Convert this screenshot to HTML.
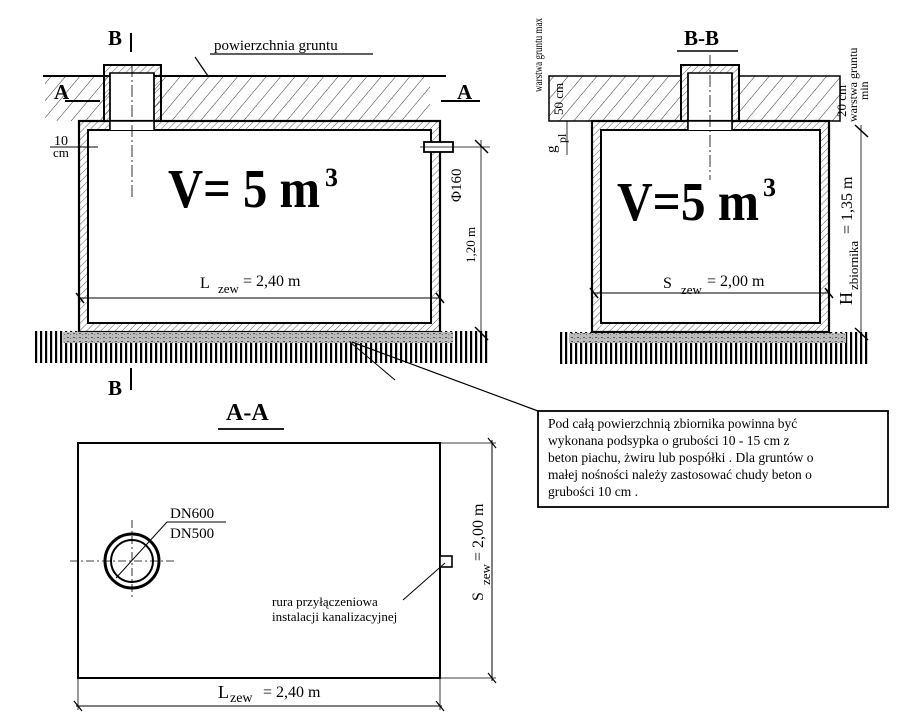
<!DOCTYPE html>
<html><head><meta charset="utf-8"><style>
html,body{margin:0;padding:0;background:#fff}
svg{display:block}
text{font-family:"Liberation Serif",serif;fill:#000}
</style></head><body>
<svg width="907" height="725" viewBox="0 0 907 725" xmlns="http://www.w3.org/2000/svg">
<defs>
<pattern id="hw" width="5" height="5" patternUnits="userSpaceOnUse" patternTransform="rotate(45)">
<line x1="0" y1="0" x2="0" y2="5" stroke="#333" stroke-width="0.8"/></pattern>
<pattern id="hs" width="11" height="11" patternUnits="userSpaceOnUse" patternTransform="rotate(40)">
<line x1="0" y1="0" x2="0" y2="11" stroke="#333" stroke-width="1"/></pattern>
<pattern id="gv" width="5" height="10" patternUnits="userSpaceOnUse">
<rect x="0" y="0" width="2.2" height="10" fill="#000"/></pattern>
<pattern id="gr" width="6" height="4" patternUnits="userSpaceOnUse">
<rect width="6" height="4" fill="#bbb"/><rect x="1" y="1" width="2" height="1" fill="#555"/><rect x="4" y="2" width="1" height="1" fill="#777"/></pattern>
</defs>

<rect x="45" y="77" width="385" height="44" fill="url(#hs)"/>
<line x1="43" y1="76" x2="446" y2="76" stroke="#000" stroke-width="2"/>
<text x="214" y="50" font-size="15">powierzchnia gruntu</text>
<line x1="210" y1="54" x2="373" y2="54" stroke="#000" stroke-width="1.2"/>
<line x1="195" y1="57" x2="208" y2="76" stroke="#000" stroke-width="1.2"/>
<text x="108" y="45" font-size="21" font-weight="bold">B</text>
<line x1="131" y1="33" x2="131" y2="52" stroke="#000" stroke-width="2"/>
<text x="54" y="99" font-size="21" font-weight="bold">A</text>
<line x1="65" y1="101" x2="100" y2="101" stroke="#000" stroke-width="2"/>
<text x="457" y="99" font-size="21" font-weight="bold">A</text>
<line x1="441" y1="101" x2="480" y2="101" stroke="#000" stroke-width="2"/>
<rect x="104" y="65" width="57" height="56" fill="url(#hw)" stroke="#000" stroke-width="2"/>
<rect x="110" y="73" width="44" height="57" fill="#fff" stroke="#000" stroke-width="1.5"/>
<rect x="79" y="121" width="361" height="211" fill="url(#hw)" stroke="#000" stroke-width="2.2"/>
<rect x="88" y="130" width="343" height="193" fill="#fff" stroke="#000" stroke-width="2"/>
<rect x="110" y="121" width="44" height="9" fill="#fff"/>
<line x1="110" y1="121" x2="154" y2="121" stroke="#000" stroke-width="1.5"/>
<line x1="110" y1="73" x2="110" y2="130" stroke="#000" stroke-width="1.5"/>
<line x1="154" y1="73" x2="154" y2="130" stroke="#000" stroke-width="1.5"/>
<line x1="132" y1="65" x2="132" y2="197" stroke="#000" stroke-width="0.8" stroke-dasharray="12,3,2,3"/>
<text x="168" y="207" font-size="55" font-weight="bold" textLength="152" lengthAdjust="spacingAndGlyphs">V= 5 m</text>
<text x="325" y="186" font-size="26" font-weight="bold">3</text>
<text x="54" y="145" font-size="14">10</text>
<line x1="50" y1="147" x2="98" y2="147" stroke="#000" stroke-width="1"/>
<text x="53" y="157" font-size="13">cm</text>
<rect x="424" y="142" width="29" height="10" fill="#fff" stroke="#000" stroke-width="1.8"/>
<line x1="420" y1="147" x2="490" y2="147" stroke="#000" stroke-width="0.7"/>
<text transform="translate(461,202) rotate(-90)" font-size="15">Φ160</text>
<line x1="481" y1="140" x2="481" y2="334" stroke="#000" stroke-width="0.8"/>
<line x1="475" y1="140" x2="488" y2="153" stroke="#000" stroke-width="1.5"/>
<line x1="475" y1="327" x2="488" y2="340" stroke="#000" stroke-width="1.5"/>
<text transform="translate(475,263) rotate(-90)" font-size="13">1,20 m</text>
<text x="200" y="288" font-size="16">L</text>
<text x="218" y="293" font-size="13">zew</text>
<text x="243" y="286" font-size="16">=  2,40 m</text>
<line x1="80" y1="298" x2="440" y2="298" stroke="#000" stroke-width="1"/>
<line x1="76" y1="293" x2="84" y2="303" stroke="#000" stroke-width="1.5"/>
<line x1="436" y1="293" x2="444" y2="303" stroke="#000" stroke-width="1.5"/>
<rect x="33" y="331" width="455" height="32" fill="url(#gv)"/>
<rect x="63" y="332" width="390" height="11" fill="url(#gr)"/>
<line x1="350" y1="342" x2="395" y2="380" stroke="#000" stroke-width="1"/>
<line x1="352" y1="342" x2="538" y2="411" stroke="#000" stroke-width="1.2"/>
<text x="108" y="395" font-size="21" font-weight="bold">B</text>
<line x1="131" y1="368" x2="131" y2="390" stroke="#000" stroke-width="2"/>

<rect x="549" y="76" width="132" height="45" fill="url(#hs)" stroke="#000" stroke-width="1.5"/>
<rect x="739" y="76" width="101" height="45" fill="url(#hs)" stroke="#000" stroke-width="1.5"/>
<text x="684" y="45" font-size="21" font-weight="bold">B-B</text>
<line x1="677" y1="51" x2="738" y2="51" stroke="#000" stroke-width="1.5"/>
<rect x="681" y="65" width="58" height="56" fill="url(#hw)" stroke="#000" stroke-width="2"/>
<rect x="688" y="73" width="44" height="57" fill="#fff" stroke="#000" stroke-width="1.5"/>
<rect x="592" y="121" width="237" height="211" fill="url(#hw)" stroke="#000" stroke-width="2.2"/>
<rect x="601" y="130" width="219" height="193" fill="#fff" stroke="#000" stroke-width="2"/>
<rect x="688" y="121" width="44" height="9" fill="#fff"/>
<line x1="688" y1="121" x2="732" y2="121" stroke="#000" stroke-width="1.5"/>
<line x1="688" y1="73" x2="688" y2="130" stroke="#000" stroke-width="1.5"/>
<line x1="732" y1="73" x2="732" y2="130" stroke="#000" stroke-width="1.5"/>
<line x1="710" y1="55" x2="710" y2="180" stroke="#000" stroke-width="0.8" stroke-dasharray="12,3,2,3"/>
<text x="617" y="220" font-size="55" font-weight="bold" textLength="142" lengthAdjust="spacingAndGlyphs">V=5 m</text>
<text x="763" y="196" font-size="26" font-weight="bold">3</text>
<text x="663" y="288" font-size="16">S</text>
<text x="681" y="294" font-size="13">zew</text>
<text x="707" y="286" font-size="16">=  2,00 m</text>
<line x1="594" y1="293" x2="829" y2="293" stroke="#000" stroke-width="1"/>
<line x1="590" y1="288" x2="598" y2="298" stroke="#000" stroke-width="1.5"/>
<line x1="825" y1="288" x2="833" y2="298" stroke="#000" stroke-width="1.5"/>
<text transform="translate(542,92) rotate(-90)" font-size="12" textLength="74" lengthAdjust="spacingAndGlyphs">warstwa gruntu max</text>
<line x1="549" y1="76" x2="549" y2="121" stroke="#000" stroke-width="1"/>
<text transform="translate(563,115) rotate(-90)" font-size="13">50 cm</text>
<line x1="567" y1="121" x2="567" y2="155" stroke="#000" stroke-width="0.8"/>
<text transform="translate(556,153) rotate(-90)" font-size="15">g</text>
<text transform="translate(566,143) rotate(-90)" font-size="12">pl</text>
<text transform="translate(846,117) rotate(-90)" font-size="13">20 cm</text>
<text transform="translate(857,122) rotate(-90)" font-size="12">warstwa gruntu</text>
<text transform="translate(868,100) rotate(-90)" font-size="12">min</text>
<line x1="840" y1="78" x2="840" y2="121" stroke="#000" stroke-width="0.8"/>
<line x1="861" y1="125" x2="861" y2="336" stroke="#000" stroke-width="0.8"/>
<line x1="855" y1="125" x2="868" y2="137" stroke="#000" stroke-width="1.5"/>
<line x1="855" y1="328" x2="868" y2="340" stroke="#000" stroke-width="1.5"/>
<text transform="translate(852,305) rotate(-90)" font-size="18">H</text>
<text transform="translate(858,290) rotate(-90)" font-size="13">zbiornika</text>
<text transform="translate(852,234) rotate(-90)" font-size="16">=  1,35 m</text>
<rect x="558" y="332" width="311" height="32" fill="url(#gv)"/>
<rect x="569" y="333" width="277" height="10" fill="url(#gr)"/>

<text x="226" y="420" font-size="24" font-weight="bold">A-A</text>
<line x1="218" y1="429" x2="284" y2="429" stroke="#000" stroke-width="1.8"/>
<rect x="78" y="443" width="362" height="235" fill="none" stroke="#000" stroke-width="2"/>
<circle cx="132" cy="561" r="27" fill="none" stroke="#000" stroke-width="3"/>
<circle cx="132" cy="561" r="21" fill="none" stroke="#000" stroke-width="2"/>
<line x1="70" y1="561" x2="176" y2="561" stroke="#000" stroke-width="0.8" stroke-dasharray="8,3,2,3"/>
<line x1="132" y1="520" x2="132" y2="600" stroke="#000" stroke-width="0.8" stroke-dasharray="8,3,2,3"/>
<line x1="116" y1="578" x2="167" y2="522" stroke="#000" stroke-width="1"/>
<line x1="167" y1="522" x2="226" y2="522" stroke="#000" stroke-width="1"/>
<text x="170" y="518" font-size="15">DN600</text>
<text x="170" y="538" font-size="15">DN500</text>
<rect x="440" y="556" width="12" height="11" fill="#fff" stroke="#000" stroke-width="1.6"/>
<line x1="403" y1="600" x2="445" y2="563" stroke="#000" stroke-width="1"/>
<text x="272" y="606" font-size="13">rura przyłączeniowa</text>
<text x="272" y="621" font-size="13">instalacji  kanalizacyjnej</text>
<line x1="440" y1="443" x2="496" y2="443" stroke="#000" stroke-width="0.8"/>
<line x1="440" y1="678" x2="496" y2="678" stroke="#000" stroke-width="0.8"/>
<line x1="492" y1="440" x2="492" y2="681" stroke="#000" stroke-width="1"/>
<line x1="488" y1="438" x2="496" y2="448" stroke="#000" stroke-width="1.2"/>
<line x1="488" y1="673" x2="496" y2="683" stroke="#000" stroke-width="1.2"/>
<text transform="translate(483,601) rotate(-90)" font-size="16">S</text>
<text transform="translate(490,585) rotate(-90)" font-size="13">zew</text>
<text transform="translate(483,561) rotate(-90)" font-size="16">=  2,00 m</text>
<line x1="78" y1="678" x2="78" y2="710" stroke="#000" stroke-width="0.8"/>
<line x1="440" y1="678" x2="440" y2="710" stroke="#000" stroke-width="0.8"/>
<line x1="76" y1="706" x2="442" y2="706" stroke="#000" stroke-width="1"/>
<line x1="74" y1="701" x2="82" y2="711" stroke="#000" stroke-width="1.2"/>
<line x1="436" y1="701" x2="444" y2="711" stroke="#000" stroke-width="1.2"/>
<text x="218" y="698" font-size="18">L</text>
<text x="230" y="702" font-size="14">zew</text>
<text x="263" y="697" font-size="16">=  2,40 m</text>

<rect x="538" y="411" width="350" height="96" fill="#fff" stroke="#000" stroke-width="1.8"/>
<text font-size="13.5">
<tspan x="548" y="428">Pod całą powierzchnią zbiornika powinna być</tspan>
<tspan x="548" y="445">wykonana podsypka o grubości 10 - 15 cm  z</tspan>
<tspan x="548" y="462">beton piachu, żwiru lub pospółki . Dla gruntów o</tspan>
<tspan x="548" y="479">małej nośności należy zastosować chudy beton o</tspan>
<tspan x="548" y="496">grubości 10 cm .</tspan>
</text>
</svg>
</body></html>
